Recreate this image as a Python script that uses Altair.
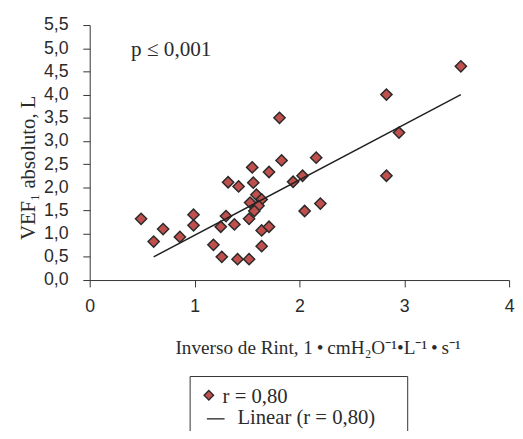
import altair as alt
import pandas as pd

# Scatter data (Inverso de Rint vs VEF1 absoluto)
x_vals = [0.49, 0.61, 0.70, 0.86, 0.99, 0.99, 1.18, 1.25, 1.30, 1.26, 1.38, 1.41,
          1.32, 1.42, 1.55, 1.56, 1.59, 1.53, 1.64, 1.61, 1.57, 1.52, 1.52, 1.64,
          1.71, 1.64, 1.71, 1.83, 1.81, 1.94, 2.03, 2.05, 2.16, 2.20, 2.83, 2.83,
          2.95, 3.54]
y_vals = [1.32, 0.83, 1.10, 0.93, 1.41, 1.18, 0.76, 1.15, 1.38, 0.50, 1.20, 0.45,
          2.11, 2.02, 2.43, 2.10, 1.84, 1.67, 1.74, 1.60, 1.49, 1.32, 0.45, 1.07,
          1.15, 0.73, 2.33, 2.58, 3.50, 2.12, 2.25, 1.49, 2.64, 1.65, 4.00, 2.25,
          3.18, 4.61]

# Linear fit line endpoints
fit_x = [0.61, 3.54]
fit_y = [0.50, 4.00]

y_ticks = [0.0, 0.5, 1.0, 1.5, 2.0, 2.5, 3.0, 3.5, 4.0, 4.5, 5.0, 5.5]
x_ticks = [0, 1, 2, 3, 4]

legend_labels = ["r = 0,80", "Linear (r = 0,80)"]

X_TITLE = "Inverso de Rint, 1\u2009•\u2009cmH₂O⁻¹•L⁻¹\u2009•\u2009s⁻¹"
Y_TITLE = "VEF₁ absoluto, L"
P_TEXT = "p ≤ 0,001"

pts = pd.DataFrame({"x": x_vals, "y": y_vals})
fit = pd.DataFrame({"x": fit_x, "y": fit_y})

FONT = "Liberation Serif"
TICKFONT = "Liberation Sans"
TXT = "#2b2b2b"

xs = alt.Scale(domain=[0, 4], nice=False, zero=True)
ys = alt.Scale(domain=[0, 5.5], nice=False)

x_axis = alt.Axis(
    values=x_ticks, format="d", grid=False, domainColor="#333", tickColor="#333",
    tickSize=7, labelPadding=11, labelFont=TICKFONT, labelFontSize=18,
    labelColor=TXT, labelFlush=False, labelOverlap=False, title=None,
)
y_axis = alt.Axis(
    values=y_ticks, grid=False, domainColor="#333", tickColor="#333",
    tickSize=7, labelPadding=15, labelFont=TICKFONT, labelFontSize=18,
    labelColor=TXT, labelOverlap=False, labelFlush=False, title=None,
    labelExpr="replace(format(datum.value, '.1f'), '.', ',')",
)

points = alt.Chart(pts).mark_point(
    shape="diamond", filled=True, size=130, fill="#c0504d", stroke="#2a2a2a",
    strokeWidth=1.5, opacity=1,
).encode(
    x=alt.X("x:Q", scale=xs, axis=x_axis),
    y=alt.Y("y:Q", scale=ys, axis=y_axis),
)

line = alt.Chart(fit).mark_line(color="#222", strokeWidth=1.5).encode(
    x=alt.X("x:Q", scale=xs, axis=x_axis),
    y=alt.Y("y:Q", scale=ys, axis=y_axis),
)

ytitle = alt.Chart(pd.DataFrame({"t": [Y_TITLE]})).mark_text(
    font=FONT, fontSize=21, color=TXT, align="center", baseline="alphabetic", angle=270
).encode(x=alt.value(-56), y=alt.value(145), text="t:N")

xtitle = alt.Chart(pd.DataFrame({"t": [X_TITLE]})).mark_text(
    font=FONT, fontSize=19.5, color=TXT, align="center", baseline="alphabetic"
).encode(x=alt.value(232), y=alt.value(334), text="t:N")

ptext = alt.Chart(pd.DataFrame({"t": [P_TEXT]})).mark_text(
    font=FONT, fontSize=21.5, color=TXT, align="left", baseline="alphabetic"
).encode(x=alt.value(42), y=alt.value(31), text="t:N")

# Legend (drawn manually below the plot)
legend_box = alt.Chart(pd.DataFrame({"a": [0]})).mark_rect(
    fill="white", stroke="#333", strokeWidth=1
).encode(x=alt.value(102), x2=alt.value(323), y=alt.value(357), y2=alt.value(440))

leg_diamond = alt.Chart(pd.DataFrame({"a": [0]})).mark_point(
    shape="diamond", filled=True, size=95, fill="#c0504d", stroke="#2a2a2a",
    strokeWidth=1.3, opacity=1,
).encode(x=alt.value(121), y=alt.value(376))

leg_line = alt.Chart(pd.DataFrame({"a": [0]})).mark_rule(color="#222", strokeWidth=1.3).encode(
    x=alt.value(119), x2=alt.value(137), y=alt.value(400)
)

leg_text = alt.Chart(pd.DataFrame({
    "t": legend_labels,
    "px": [135, 150],
    "py": [384, 405],
})).mark_text(font=FONT, fontSize=21, color=TXT, align="left", baseline="alphabetic").encode(
    x=alt.X("px:Q", scale=None), y=alt.Y("py:Q", scale=None), text="t:N"
)

chart = alt.layer(
    points, line, ytitle, xtitle, ptext, legend_box, leg_diamond, leg_line, leg_text
).properties(
    width=426, height=259,
    autosize=alt.AutoSizeParams(type="none"),
    padding={"left": 83, "top": 14, "right": 6, "bottom": 150},
).configure_view(stroke=None)

chart.save("out.html", embed_options={"renderer": "svg", "actions": False})
